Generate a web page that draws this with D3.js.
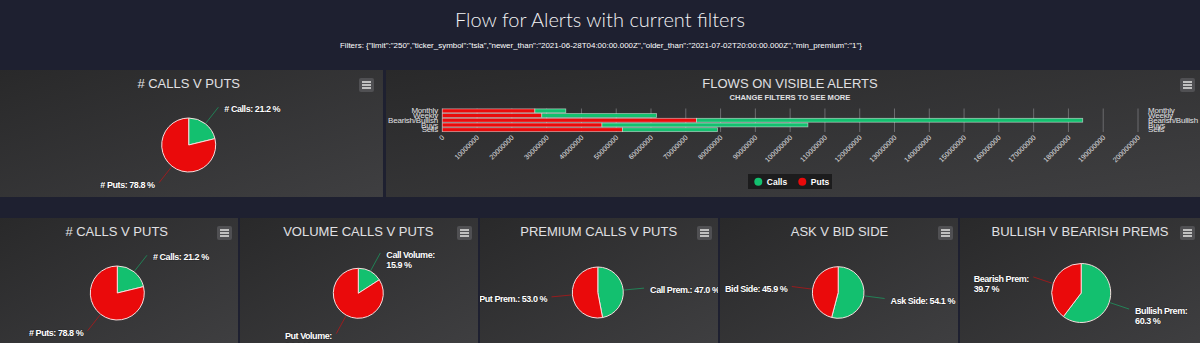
<!DOCTYPE html>
<html><head><meta charset="utf-8">
<script src="https://cdn.jsdelivr.net/npm/d3@7"></script>
<style>
html,body{margin:0;padding:0;background:#1e2030;overflow:hidden}
text{font-family:"Liberation Sans",Arial,sans-serif}
</style></head>
<body><svg id="c" width="1200" height="343"></svg>
<script>
// ---------- data ----------
const headerTitle = "Flow for Alerts with current filters";
const filterText = 'Filters: {"limit":"250","ticker_symbol":"tsla","newer_than":"2021-06-28T04:00:00.000Z","older_than":"2021-07-02T20:00:00.000Z","min_premium":"1"}';

const flowTitle = "FLOWS ON VISIBLE ALERTS";
const flowSubtitle = "CHANGE FILTERS TO SEE MORE";
const barCategories = ["Monthly", "Weekly", "Bearish/Bullish", "Buys", "Sells"];
const callFlows = [8900000, 33000000, 111000000, 59200000, 27300000];
const putFlows = [26600000, 28600000, 73100000, 45900000, 51800000];
const flowTicks = [0, 10000000, 20000000, 30000000, 40000000, 50000000, 60000000, 70000000, 80000000, 90000000, 100000000,
  110000000, 120000000, 130000000, 140000000, 150000000, 160000000, 170000000, 180000000, 190000000, 200000000];
const legendNames = ["Calls", "Puts"];

const pieTitles = ["# CALLS V PUTS", "# CALLS V PUTS", "VOLUME CALLS V PUTS", "PREMIUM CALLS V PUTS", "ASK V BID SIDE", "BULLISH V BEARISH PREMS"];
const pieGreenNames = ["# Calls", "# Calls", "Call Volume", "Call Prem.", "Ask Side", "Bullish Prem"];
const pieRedNames = ["# Puts", "# Puts", "Put Volume", "Put Prem.", "Bid Side", "Bearish Prem"];
const pieGreenValues = [21.2, 21.2, 15.9, 47.0, 54.1, 60.3];
const pieRedValues = [78.8, 78.8, 84.1, 53.0, 45.9, 39.7];

// ---------- style / layout ----------
const GREEN = "#13c06f", RED = "#ea0a0b";
const svg = d3.select("#c");
const defs = svg.append("defs");
const grad = defs.append("linearGradient").attr("id", "pg").attr("x1", 0).attr("y1", 0).attr("x2", 1).attr("y2", 1);
grad.append("stop").attr("offset", "0%").attr("stop-color", "#29292a");
grad.append("stop").attr("offset", "100%").attr("stop-color", "#3f3f41");

svg.append("rect").attr("width", 1200).attr("height", 343).attr("fill", "#1e2030");

// header
svg.append("text").attr("x", 600).attr("y", 27).attr("text-anchor", "middle")
  .attr("fill", "#f2f2f4").style("font-family", "Lato, 'Open Sans', sans-serif").style("font-weight", 300)
  .style("font-size", "20px").attr("textLength", 290).attr("lengthAdjust", "spacingAndGlyphs").text(headerTitle);
svg.append("text").attr("x", 601).attr("y", 48).attr("text-anchor", "middle")
  .attr("fill", "#ffffff").style("font-size", "7.5px")
  .attr("textLength", 522).attr("lengthAdjust", "spacingAndGlyphs").text(filterText);

function panel(x, y, w, h) {
  const g = svg.append("g").attr("transform", `translate(${x},${y})`);
  g.append("rect").attr("width", w).attr("height", h).attr("fill", "url(#pg)");
  return g;
}
function menu(x, y) {
  const g = svg.append("g").attr("transform", `translate(${x},${y})`);
  g.append("rect").attr("width", 15).attr("height", 14).attr("rx", 2).attr("fill", "#505053");
  [4, 7, 10].forEach(yy => g.append("line").attr("x1", 3).attr("x2", 12).attr("y1", yy).attr("y2", yy)
    .attr("stroke", "#dddddd").attr("stroke-width", 1.6));
}
function title(cx, y, t) {
  svg.append("text").attr("x", cx).attr("y", y).attr("text-anchor", "middle")
    .attr("fill", "#e0e0e3").style("font-size", "13px").text(t);
}

// panels
const pieLayout = [
  {px: 0, py: 70, pw: 383, ph: 127, cx: 188.7, cy: 145, r: 27, tx: 188.7, mx: 359, wrap: false},
  {px: 0, py: 218, pw: 238, ph: 130, cx: 117.3, cy: 293, r: 27, tx: 116.7, mx: 217, wrap: false},
  {px: 240, py: 218, pw: 238, ph: 130, cx: 358.3, cy: 293.3, r: 25, tx: 358.3, mx: 457, wrap: true},
  {px: 480, py: 218, pw: 238, ph: 130, cx: 597.8, cy: 292.5, r: 25.5, tx: 598.7, mx: 697, wrap: false},
  {px: 720, py: 218, pw: 238, ph: 130, cx: 838.2, cy: 292.5, r: 25.8, tx: 839.5, mx: 938, wrap: false},
  {px: 960, py: 218, pw: 240, ph: 130, cx: 1081.2, cy: 293, r: 29.5, tx: 1080, mx: 1180, wrap: true}
];

const pie = d3.pie().sort(null).value(d => d.v);

pieLayout.forEach((L, i) => {
  const pg = panel(L.px, L.py, L.pw, L.ph);
  pg.attr("clip-path", null);
  const clipId = "clip" + i;
  defs.append("clipPath").attr("id", clipId).append("rect")
    .attr("x", L.px).attr("y", L.py).attr("width", L.pw).attr("height", L.ph);
  title(L.tx, L.py + 17.5, pieTitles[i]);
  menu(L.mx, L.py + 8);
  const data = [
    {name: pieGreenNames[i], v: pieGreenValues[i], c: GREEN},
    {name: pieRedNames[i], v: pieRedValues[i], c: RED}
  ];
  const arcs = pie(data);
  const g = svg.append("g").attr("clip-path", `url(#${clipId})`);
  const cg = g.append("g").attr("transform", `translate(${L.cx},${L.cy})`);
  const arc = d3.arc().innerRadius(0).outerRadius(L.r);
  cg.selectAll("path.s").data(arcs).join("path").attr("class", "s")
    .attr("d", arc).attr("fill", d => d.data.c).attr("stroke", "#f6dede").attr("stroke-width", 1);
  arcs.forEach(a => {
    const mid = (a.startAngle + a.endAngle) / 2;
    const s = Math.sin(mid), c = -Math.cos(mid);
    const d0 = L.r + 1, d1 = L.r + 21;
    const ax = d1 * s, ay = d1 * c;
    cg.append("path").attr("d", `M${d0 * s},${d0 * c}L${ax},${ay}`)
      .attr("stroke", a.data.c).attr("stroke-opacity", 0.55).attr("fill", "none").attr("stroke-width", 1);
    const lines = L.wrap ? [a.data.name + ":", a.data.v.toFixed(1) + " %"] : [a.data.name + ": " + a.data.v.toFixed(1) + " %"];
    const t = cg.append("text").attr("fill", "#ffffff").style("font-size", "9px").style("font-weight", "bold")
      .style("letter-spacing", "-0.45px")
      .style("paint-order", "stroke").attr("stroke", "#000").attr("stroke-opacity", 0.25).attr("stroke-width", 1.2);
    lines.forEach((ln, k) => t.append("tspan").attr("x", 0).attr("y", ay + 2 + k * 10).attr("dy", "0.35em").text(ln));
    const w = t.node().getBBox().width;
    const tx = s > 0 ? ax + 6 : ax - 4 - w;
    t.selectAll("tspan").attr("x", tx);
  });
});

// ---------- bar chart ----------
const bp = panel(386, 70, 814, 127);
title(790, 87.5, flowTitle);
svg.append("text").attr("x", 790).attr("y", 99.5).attr("text-anchor", "middle")
  .attr("fill", "#e0e0e3").style("font-size", "7.6px").style("font-weight", "bold").text(flowSubtitle);
menu(1180, 78);

const x = d3.scaleLinear().domain([0, 200000000]).range([442.3, 1138]);
const y = d3.scaleBand().domain(barCategories).range([108.5, 132]).paddingInner(0.18).paddingOuter(0.08);

// grid
svg.append("g").selectAll("line").data(flowTicks).join("line")
  .attr("x1", d => x(d)).attr("x2", d => x(d)).attr("y1", 108.5).attr("y2", 132)
  .attr("stroke", "#6b6b6e").attr("stroke-width", 1);

// stacked bars (puts first from zero, calls on top)
const rows = barCategories.map((c, i) => ({cat: c, Puts: putFlows[i], Calls: callFlows[i]}));
const stack = d3.stack().keys(["Puts", "Calls"])(rows);
const col = {Puts: RED, Calls: GREEN};
svg.append("g").selectAll("g").data(stack).join("g").attr("fill", d => col[d.key])
  .selectAll("rect").data(d => d).join("rect")
  .attr("x", d => x(d[0])).attr("width", d => x(d[1]) - x(d[0]))
  .attr("y", d => y(d.data.cat)).attr("height", y.bandwidth())
  .attr("stroke", "#ffffff").attr("stroke-opacity", 0.55).attr("stroke-width", 0.8);

// x axis
const xa = svg.append("g").attr("transform", "translate(0,132)")
  .call(d3.axisBottom(x).tickValues(flowTicks).tickFormat(d3.format("d")).tickSize(0).tickPadding(0));
xa.select(".domain").remove();
xa.selectAll("text").attr("fill", "#e0e0e3").style("font-size", "7px").style("font-family", "'Liberation Sans',Arial,sans-serif")
  .attr("text-anchor", "end").attr("dy", 0).attr("y", 0)
  .attr("transform", "translate(2,6) rotate(-45)");

// category labels left & right
const ya = svg.append("g").attr("transform", "translate(438,0)")
  .call(d3.axisLeft(y).tickSize(0).tickPadding(0));
ya.select(".domain").remove();
ya.selectAll("text").attr("fill", "#e0e0e3").style("font-size", "8px").style("letter-spacing", "-0.2px")
  .style("font-family", "'Liberation Sans',Arial,sans-serif");
const yb = svg.append("g").attr("transform", "translate(1148,0)")
  .call(d3.axisRight(y).tickSize(0).tickPadding(0));
yb.select(".domain").remove();
yb.selectAll("text").attr("fill", "#e0e0e3").style("font-size", "8px").style("letter-spacing", "-0.2px")
  .style("font-family", "'Liberation Sans',Arial,sans-serif");

// legend
const lg = svg.append("g");
lg.append("rect").attr("x", 748).attr("y", 174).attr("width", 84).attr("height", 15).attr("fill", "#1c1c1d");
const lcol = [GREEN, RED];
legendNames.forEach((n, i) => {
  const lx = 758.3 + i * 44;
  lg.append("circle").attr("cx", lx).attr("cy", 181.8).attr("r", 4).attr("fill", lcol[i]);
  lg.append("text").attr("x", lx + 8.5).attr("y", 181.8).attr("dy", "0.35em").attr("fill", "#ffffff")
    .style("font-size", "8.5px").style("font-weight", "bold").text(n);
});
</script></body></html>
